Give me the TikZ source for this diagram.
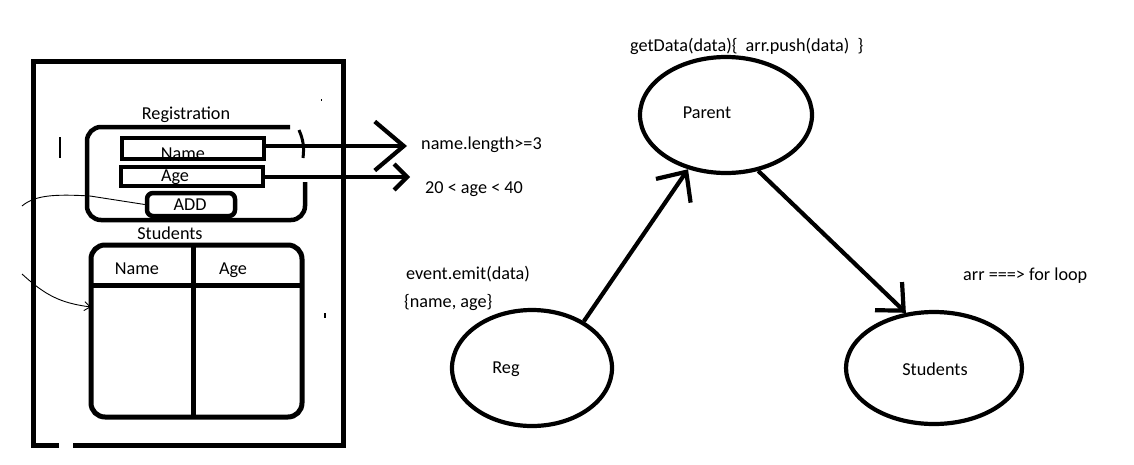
\documentclass[tikz,border=0pt]{standalone}
\usepackage{fontspec}
\setmainfont{Carlito}
\usetikzlibrary{shapes.geometric,arrows.meta}
\begin{document}
\begin{tikzpicture}[x=1pt,y=-1pt,
  every node/.style={font=\fontsize{18.2}{21}\selectfont},
  thick4/.style={line width=4.5pt},
  fieldbox/.style={draw,line width=4.5pt,inner sep=0pt},
  bubble/.style={draw,ellipse,line width=4.2pt,inner sep=0pt},
  lbl/.style={anchor=west,inner sep=0pt},
  txt/.style={inner sep=0pt},
  conn/.style={line width=4.2pt}]
\useasboundingbox (0,0) rectangle (1134,464);
% outer frame
\draw[line width=5pt] (59,445) -- (33,445) -- (33,61) -- (343,61) -- (343,445) -- (73,445);
% stray marks
\draw[line width=1.3pt] (60,137) -- (60,158);
\draw[line width=1pt] (321,99) -- (321,101);
\draw[line width=1.3pt] (325,313) -- (325,318);
% registration
\node[txt] (regtitle) at (186,115) {Registration};
\draw[thick4,rounded corners=14] (290,127) -- (87,127) -- (87,220) -- (305,220) -- (305,182);
\draw[line width=3pt] (299,130) to[bend left=15] (303,158);
\node[fieldbox,minimum width=142,minimum height=21] (namebox) at (193,148.5) {};
\node[txt] (namet) at (183,154) {Name};
\node[fieldbox,minimum width=142,minimum height=19] (agebox) at (192,176.5) {};
\node[txt] (aget) at (175,177) {Age};
\node[fieldbox,rounded corners=6,minimum width=88,minimum height=23] (addbox) at (191,204.5) {};
\node[txt] (addt) at (190,205) {ADD};
% students table
\node[txt] (sttitle) at (170,233) {Students};
\node[draw,line width=5pt,rounded corners=14,minimum width=211,minimum height=172,inner sep=0pt] (stable) at (196.5,331) {};
\draw[line width=5pt] (91,285) -- (302,285);
\draw[line width=5pt] (193,245) -- (193,417);
\node[txt] (thname) at (137,269) {Name};
\node[txt] (thage) at (233,270) {Age};
% thin hand connectors
\coordinate (addfrom) at (22,206);
\draw[line width=0.9pt] (addfrom) .. controls (35,195) and (55,194) .. (90,196) -- (addbox.west);
\coordinate (tblfrom) at (22,274);
\coordinate (tblto) at (91,307);
\draw[line width=0.9pt,-{Straight Barb[length=6pt,width=9pt]}] (tblfrom) .. controls (45,295) and (60,303) .. (tblto);
% validation arrows
\node[lbl] (nlen) at (421,145) {name.length>=3};
\node[lbl] (agerng) at (425,189) {20 < age < 40};
\coordinate (ntip) at (407,146);
\coordinate (atip) at (410,177);
\draw[conn,-{Straight Barb[length=29pt,width=49pt]}] (namebox.east |- ntip) -- (ntip);
\draw[conn,-{Straight Barb[length=13pt,width=26pt]}] (agebox.east |- atip) -- (atip);
% right graph
\node[bubble,minimum width=172,minimum height=116] (parent) at (726,115) {};
\node[txt] (parentt) at (707,113) {Parent};
\node[lbl] (getdata) at (630,46) {getData(data)\{\ \ arr.push(data)\ \ \}};
\node[bubble,minimum width=160,minimum height=116] (reg) at (532,368) {};
\node[txt] (regt) at (506,369) {Reg};
\node[bubble,minimum width=176,minimum height=112] (students) at (934,368) {};
\node[txt] (studt) at (935,369) {Students};
\node[lbl] (emit) at (406,274) {event.emit(data)};
\node[lbl] (nameage) at (404,302) {\{name, age\}};
\node[lbl] (forloop) at (963,276) {arr ===> for loop};
\draw[conn,-{Straight Barb[length=23pt,width=42pt]}] (reg.42) -- (parent.235);
\draw[conn,-{Straight Barb[length=21pt,width=39pt]}] (parent.300) -- (students.117);
\end{tikzpicture}
\end{document}
